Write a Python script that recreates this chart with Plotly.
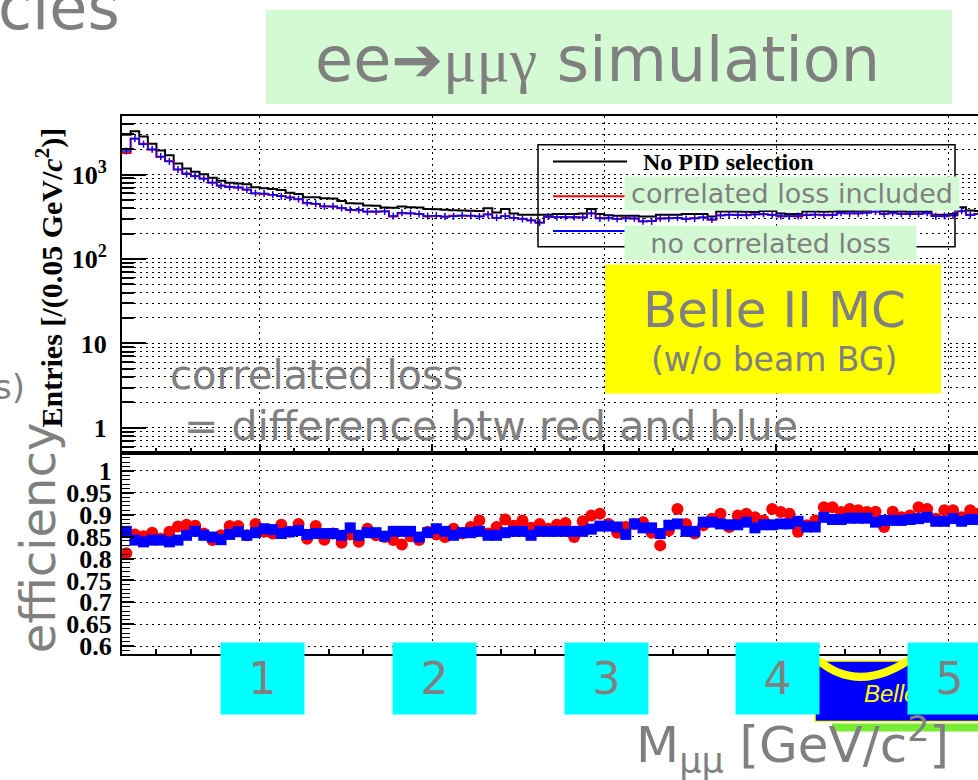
import numpy as np
import plotly.graph_objects as go

W, H = 978, 780

# ---------------- data ----------------
bin_low, bin_width, n_bins = 0.2, 0.05, 100
bin_edges = np.round(bin_low + bin_width * np.arange(n_bins + 1), 3)
bin_centers = np.round(bin_edges[:-1] + bin_width / 2, 4)

entries_no_pid = [
    2970, 3260, 2820, 2310, 1930, 1690, 1350, 1180, 1080, 1010,
    915, 845, 800, 785, 765, 705, 690, 672, 655, 610,
    587, 537, 537, 523, 520, 486, 457, 455, 430, 428,
    407, 405, 418, 410, 408, 392, 388, 383, 378, 375,
    372, 371, 399, 355, 392, 345, 335, 333, 333, 333,
    340, 342, 342, 345, 392, 342, 330, 326, 326, 326,
    319, 319, 333, 333, 335, 342, 342, 342, 319, 365,
    365, 365, 362, 360, 371, 371, 345, 342, 342, 365,
    365, 362, 365, 371, 371, 368, 372, 400, 371, 365,
    368, 362, 365, 365, 333, 333, 342, 410, 375, 370,
]
entries_corr_loss = [
    1800, 2650, 2310, 1960, 1614, 1448, 1145, 1027, 955, 898,
    799, 743, 718, 699, 667, 598, 587, 572, 556, 537,
    509, 457, 448, 418, 415, 399, 381, 378, 365, 362,
    368, 319, 349, 345, 340, 319, 322, 316, 324, 325,
    326, 321, 339, 305, 322, 305, 300, 285, 268, 315,
    315, 312, 310, 313, 349, 305, 303, 298, 305, 300,
    278, 282, 300, 305, 305, 300, 305, 310, 291, 330,
    333, 333, 330, 339, 339, 335, 319, 322, 319, 333,
    333, 330, 335, 349, 349, 345, 355, 362, 345, 349,
    345, 340, 345, 349, 324, 320, 330, 368, 335, 340,
]
entries_no_corr_loss = [
    1900, 2680, 2290, 1990, 1640, 1430, 1150, 1015, 960, 890,
    805, 735, 712, 705, 660, 602, 595, 578, 552, 530,
    512, 462, 450, 420, 420, 402, 384, 380, 362, 365,
    365, 322, 352, 348, 342, 322, 326, 318, 320, 328,
    324, 318, 336, 308, 320, 308, 298, 288, 270, 318,
    312, 315, 314, 310, 346, 302, 306, 300, 302, 303,
    280, 279, 303, 302, 308, 298, 302, 312, 294, 328,
    335, 330, 333, 336, 342, 332, 322, 320, 322, 330,
    336, 333, 332, 352, 346, 348, 352, 365, 342, 352,
    342, 343, 342, 352, 321, 323, 327, 371, 332, 343,
]
eff_corr_loss = [
    0.812, 0.855, 0.851, 0.859, 0.845, 0.861, 0.873, 0.877, 0.875, 0.857,
    0.842, 0.853, 0.874, 0.874, 0.853, 0.879, 0.861, 0.857, 0.877, 0.861,
    0.879, 0.845, 0.874, 0.843, 0.857, 0.836, 0.855, 0.838, 0.868, 0.853,
    0.849, 0.842, 0.832, 0.851, 0.842, 0.861, 0.855, 0.849, 0.868, 0.857,
    0.872, 0.887, 0.857, 0.872, 0.889, 0.875, 0.887, 0.870, 0.879, 0.868,
    0.877, 0.881, 0.849, 0.885, 0.898, 0.902, 0.879, 0.859, 0.872, 0.879,
    0.883, 0.859, 0.830, 0.864, 0.913, 0.879, 0.857, 0.876, 0.891, 0.902,
    0.872, 0.898, 0.902, 0.894, 0.887, 0.913, 0.906, 0.902, 0.861, 0.876,
    0.887, 0.917, 0.917, 0.906, 0.913, 0.910, 0.906, 0.907, 0.872, 0.907,
    0.894, 0.898, 0.917, 0.913, 0.891, 0.910, 0.910, 0.894, 0.910, 0.902,
]
eff_no_corr_loss = [
    0.862, 0.842, 0.838, 0.842, 0.842, 0.838, 0.842, 0.853, 0.862, 0.853,
    0.849, 0.843, 0.855, 0.861, 0.853, 0.859, 0.868, 0.866, 0.857, 0.861,
    0.864, 0.855, 0.857, 0.857, 0.857, 0.853, 0.870, 0.853, 0.859, 0.859,
    0.851, 0.862, 0.862, 0.862, 0.849, 0.859, 0.868, 0.862, 0.853, 0.859,
    0.859, 0.862, 0.853, 0.853, 0.859, 0.862, 0.862, 0.853, 0.862, 0.862,
    0.862, 0.862, 0.862, 0.862, 0.867, 0.874, 0.874, 0.872, 0.855, 0.879,
    0.870, 0.870, 0.857, 0.876, 0.879, 0.862, 0.862, 0.883, 0.883, 0.879,
    0.877, 0.877, 0.883, 0.870, 0.877, 0.877, 0.879, 0.879, 0.885, 0.872,
    0.872, 0.894, 0.889, 0.889, 0.892, 0.892, 0.892, 0.883, 0.887, 0.887,
    0.887, 0.889, 0.891, 0.894, 0.885, 0.885, 0.891, 0.885, 0.889, 0.889,
]

log_major = [1, 10, 100, 1000]
log_major_text = ["1", "10", "10<sup>2</sup>", "10<sup>3</sup>"]
log_minor = [0.6, 0.7, 0.8, 0.9] + [m * d for d in (1, 10, 100) for m in range(2, 10)] + [2000, 3000, 4000]
eff_ticks = [0.6, 0.65, 0.7, 0.75, 0.8, 0.85, 0.9, 0.95, 1.0]
eff_tick_text = ["0.6", "0.65", "0.7", "0.75", "0.8", "0.85", "0.9", "0.95", "1"]
box_labels = ["1", "2", "3", "4", "5"]

# ---------------- styling ----------------
GRAY = "#808080"
SLIDE = "DejaVu Sans"
SERIF = "Liberation Serif"
DOT = "2px,4px"


def px(x):
    return x / W


def py(y):
    return 1 - y / H


def step(v):
    return list(v) + [v[-1]]


fig = go.Figure()
fig.add_trace(go.Scatter(x=bin_edges, y=step(entries_no_pid), mode="lines",
                         line=dict(color="black", width=2, shape="hv"), xaxis="x", yaxis="y"))
fig.add_trace(go.Scatter(x=bin_edges, y=step(entries_corr_loss), mode="lines",
                         line=dict(color="#ff0000", width=2, shape="hv"), xaxis="x", yaxis="y"))
fig.add_trace(go.Scatter(x=bin_edges, y=step(entries_no_corr_loss), mode="lines",
                         line=dict(color="#0000ff", width=1.5, shape="hv"), xaxis="x", yaxis="y"))
fig.add_trace(go.Scatter(x=bin_centers, y=entries_no_corr_loss, mode="markers",
                         marker=dict(symbol="line-ns", size=5, line=dict(color="#0000ff", width=1.5)),
                         xaxis="x", yaxis="y"))
fig.add_trace(go.Scatter(x=bin_centers, y=eff_corr_loss, mode="markers",
                         marker=dict(symbol="circle", size=12, color="#ff0000", line=dict(width=0)),
                         xaxis="x2", yaxis="y2"))
fig.add_trace(go.Scatter(x=bin_centers, y=eff_no_corr_loss, mode="markers",
                         marker=dict(symbol="square", size=11, color="#0000ff", line=dict(width=0)),
                         xaxis="x2", yaxis="y2"))

xcommon = dict(domain=[px(122), 1], range=[0.2, 5.17], showline=True, linecolor="black", linewidth=2,
               mirror=True, ticks="inside", tickcolor="black", tickwidth=1.5, ticklen=9,
               tick0=0, dtick=1, showticklabels=False, zeroline=False,
               showgrid=True, gridcolor="black", griddash=DOT, gridwidth=1,
               minor=dict(tick0=0, dtick=0.2, ticklen=5, ticks="inside", tickcolor="black", tickwidth=1.5))

fig.update_layout(
    width=W, height=H,
    margin=dict(l=0, r=0, t=0, b=0),
    paper_bgcolor="white", plot_bgcolor="white",
    showlegend=False,
    xaxis=dict(anchor="y", **xcommon),
    xaxis2=dict(anchor="y2", matches="x", **xcommon),
    yaxis=dict(domain=[py(457), py(117)], type="log", range=[-0.297, 3.694], anchor="x",
               showline=True, linecolor="black", linewidth=2, ticks="inside", ticklen=24,
               tickwidth=1.5, tickcolor="black", tickvals=log_major, ticktext=log_major_text,
               tickfont=dict(family=SERIF, size=26, color="black", weight="bold"),
               ticklabelstandoff=8, zeroline=False,
               showgrid=True, gridcolor="black", griddash=DOT, gridwidth=1,
               minor=dict(tickmode="array", tickvals=log_minor, ticklen=12, ticks="inside",
                          tickcolor="black", tickwidth=1.5, showgrid=True, gridcolor="black",
                          griddash=DOT, gridwidth=1)),
    yaxis2=dict(domain=[py(660), py(457)], range=[0.582, 1.041], anchor="x2",
                showline=True, linecolor="black", linewidth=2, ticks="inside", ticklen=12,
                tickwidth=1.5, tickcolor="black", tickvals=eff_ticks, ticktext=eff_tick_text,
                tickfont=dict(family=SERIF, size=26, color="black", weight="bold"),
                ticklabelstandoff=3, zeroline=False,
                showgrid=True, gridcolor="black", griddash=DOT, gridwidth=1,
                minor=dict(tick0=0, dtick=0.01, ticklen=8, ticks="inside", tickcolor="black",
                           tickwidth=1.2, showgrid=False)),
)

shapes = []


def rect(x0, y0, x1, y1, fill, line_color=None, lw=0):
    shapes.append(dict(type="rect", xref="paper", yref="paper", x0=px(x0), x1=px(x1),
                       y0=py(y1), y1=py(y0), fillcolor=fill, layer="above",
                       line=dict(color=line_color or fill, width=lw)))


def hline(x0, x1, y, color, lw=2):
    shapes.append(dict(type="line", xref="paper", yref="paper", x0=px(x0), x1=px(x1),
                       y0=py(y), y1=py(y), layer="above", line=dict(color=color, width=lw)))


# title box
rect(266, 10, 952, 105, "#d4fad4")
# legend
shapes.append(dict(type="rect", xref="paper", yref="paper", x0=px(538), x1=px(955), y0=py(249), y1=py(146),
                   layer="above", line=dict(color="black", width=1.5), fillcolor="rgba(0,0,0,0)"))
hline(553, 627, 163, "black")
hline(553, 625, 198, "#ff0000")
hline(553, 625, 233, "#0000ff")
# yellow box
rect(605, 267, 941, 397, "#ffff00")
# belle logo piece
rect(815, 667, 995, 728, "#0000ff", "#ffff00", 1.5)
shapes.append(dict(type="path", xref="paper", yref="paper", layer="above",
                   path=f"M {px(818)},{py(666)} Q {px(860)},{py(702)} {px(915)},{py(662)}",
                   line=dict(color="#ffff00", width=8)))
rect(832, 730, 995, 738, "#77ee33")

anns = []


def ann(text, x, y, size, color=GRAY, family=SLIDE, xanchor="center", yanchor="middle", **kw):
    anns.append(dict(text=text, x=px(x), y=py(y), xref="paper", yref="paper", showarrow=False,
                     font=dict(family=family, size=size, color=color),
                     xanchor=xanchor, yanchor=yanchor, **kw))


ann("cies", -4, 46, 62, xanchor="left", yanchor="bottom")
ann('ee➔<span style="font-family:Liberation Serif">μμγ</span> simulation', 597, 60, 62)
ann("<b>No PID selection</b>", 641, 163, 24, color="black", family=SERIF, xanchor="left")
ann("correlated loss included", 624, 178, 27, xanchor="left", yanchor="top",
    bgcolor="#d4fad4", width=334, height=33, borderpad=0, align="center", valign="middle")
ann("no correlated loss", 624, 227, 27, xanchor="left", yanchor="top",
    bgcolor="#d4fad4", width=291, height=34, borderpad=0, align="center", valign="middle")
ann("Belle II MC", 774, 313, 50)
ann("(w/o beam BG)", 774, 363, 33)
ann("correlated loss", 317, 378, 40)
ann("= difference btw red and blue", 491, 430, 41)
ann("s)", 27, 391, 34, xanchor="right")
ann("efficiency", 38, 543, 48, textangle=-90)
ann("<b>Entries [/(0.05 GeV/<i>c</i><sup>2</sup>)]</b>", 50, 280, 30, color="black", family=SERIF,
    textangle=-90)
ann("<i>Belle II</i>", 862, 700, 24, color="#ffff00", family="Liberation Sans", xanchor="left")
for lab, x0 in zip(box_labels, [220, 392, 564, 735, 907]):
    ann(lab, x0, 648, 44, xanchor="left", yanchor="top", bgcolor="#00ffff",
        width=83, height=71, borderpad=0, align="center", valign="middle")
ann("M<sub>μμ</sub> [GeV/c<sup>2</sup>]", 634, 752, 50, xanchor="left")

fig.update_layout(shapes=shapes, annotations=anns)
fig.write_html("out.html", config={"displayModeBar": False},
               post_script="document.body.style.margin='0px';document.body.style.overflow='hidden';")
